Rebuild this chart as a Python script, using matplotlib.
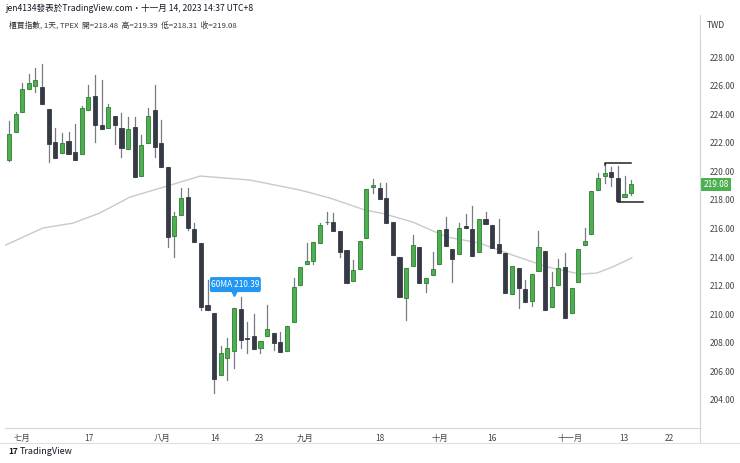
import matplotlib
matplotlib.use('Agg')
import matplotlib.pyplot as plt
from matplotlib.patches import Rectangle, FancyBboxPatch
import numpy as np

plt.rcParams['font.family'] = ['Noto Sans CJK TC', 'DejaVu Sans']

# daily OHLC (Jul 3 - Nov 14, 2023)
opens = [220.79, 222.75, 224.15, 225.76, 225.97, 225.90, 224.36, 222.05, 221.28, 222.12,
         221.35, 221.21, 224.29, 225.27, 223.24, 223.03, 223.87, 223.03, 221.56, 223.10,
         219.67, 221.98, 224.29, 221.98, 220.30, 215.47, 216.94, 218.20, 215.96, 214.98,
         210.64, 210.08, 205.74, 206.93, 207.42, 210.36, 208.33, 208.47, 207.63, 208.47,
         208.68, 208.05, 207.42, 209.45, 212.04, 213.52, 213.73, 214.98, 216.42, 216.45,
         215.82, 214.49, 212.32, 213.17, 215.33, 218.90, 218.83, 218.13, 216.45, 214.00,
         211.13, 213.38, 214.70, 212.18, 212.74, 213.52, 215.96, 214.56, 214.21, 216.17,
         215.96, 214.35, 216.66, 216.24, 214.91, 214.28, 211.41, 213.24, 211.76, 210.92,
         213.03, 214.42, 210.50, 212.04, 213.31, 210.08, 212.25, 214.84, 215.61, 218.69,
         219.67, 219.95, 219.53, 218.20, 218.48]
highs = [223.52, 224.15, 226.18, 226.81, 227.23, 227.51, 224.36, 223.03, 222.68, 222.75,
         223.31, 224.57, 226.04, 226.74, 226.39, 224.71, 223.87, 224.08, 223.80, 223.80,
         222.54, 224.43, 226.04, 223.59, 220.30, 217.15, 218.83, 218.83, 216.38, 214.98,
         212.39, 210.08, 207.77, 208.33, 210.43, 211.20, 209.45, 210.01, 208.12, 210.64,
         208.68, 208.75, 209.17, 212.53, 213.30, 214.98, 215.05, 216.38, 217.15, 217.08,
         215.82, 214.49, 213.80, 215.12, 218.76, 219.46, 219.18, 219.18, 216.45, 214.00,
         213.24, 215.54, 214.70, 212.53, 214.35, 215.89, 216.80, 214.56, 216.38, 217.01,
         217.57, 216.66, 217.15, 216.24, 216.66, 214.28, 213.38, 213.24, 212.39, 212.81,
         215.82, 214.42, 212.95, 213.87, 214.28, 211.83, 214.56, 216.03, 218.62, 219.88,
         220.58, 220.30, 220.37, 219.67, 219.39]
lows = [220.70, 222.75, 224.15, 225.76, 225.55, 224.71, 220.65, 220.93, 221.28, 221.21,
        220.79, 221.21, 224.29, 222.05, 222.96, 223.03, 221.91, 221.00, 221.56, 219.60,
        219.67, 221.98, 221.00, 220.30, 214.70, 214.00, 216.94, 215.89, 215.05, 210.30,
        210.29, 204.48, 205.74, 205.39, 206.23, 207.63, 207.28, 207.56, 207.28, 208.47,
        207.49, 207.35, 207.42, 209.45, 212.04, 213.52, 213.52, 214.98, 216.31, 215.82,
        214.00, 212.18, 212.32, 213.17, 215.33, 218.48, 218.06, 216.38, 214.14, 211.20,
        209.59, 213.38, 212.18, 211.55, 212.74, 213.52, 214.77, 212.25, 214.21, 216.03,
        214.07, 214.35, 216.31, 214.63, 214.28, 211.48, 211.41, 210.43, 210.85, 210.57,
        213.03, 210.29, 210.50, 212.04, 209.74, 210.08, 212.25, 214.84, 215.61, 218.69,
        219.18, 218.97, 217.92, 218.20, 218.31]
closes = [222.61, 224.01, 225.76, 226.18, 226.39, 224.71, 221.91, 220.93, 221.98, 221.21,
          220.79, 224.43, 225.20, 223.24, 222.96, 224.50, 223.24, 221.63, 222.96, 219.60,
          221.84, 223.87, 221.70, 220.30, 215.40, 216.87, 218.13, 216.03, 215.05, 210.50,
          210.29, 205.46, 207.28, 207.63, 210.43, 208.19, 208.30, 207.56, 208.12, 208.96,
          207.98, 207.35, 209.17, 211.90, 213.30, 213.73, 215.05, 216.24, 216.45, 215.82,
          214.35, 212.18, 213.10, 215.12, 218.76, 219.04, 218.06, 216.38, 214.14, 211.20,
          213.24, 214.84, 212.18, 212.53, 213.17, 215.89, 214.77, 213.87, 216.03, 216.03,
          214.07, 216.66, 216.31, 214.63, 214.28, 211.48, 213.38, 211.83, 210.85, 212.81,
          214.70, 210.29, 211.90, 213.24, 209.74, 211.83, 214.56, 215.12, 218.62, 219.53,
          219.88, 219.60, 217.92, 218.41, 219.08]

# 60-day moving average, sampled along the line
ma_idx = [-0.5, 5.1, 9.7, 13.7, 18.3, 23.9, 28.9, 36.4, 44.0, 48.5, 53.8, 56.5,
          61.0, 66.2, 71.1, 76.1, 81.3, 86.3, 88.8, 91.2, 94.1]
ma_val = [214.84, 216.03, 216.38, 217.08, 218.20, 218.97, 219.67, 219.39, 218.69, 218.13,
          217.29, 217.05, 216.45, 215.40, 214.98, 214.14, 213.31, 212.81, 212.88, 213.31, 213.94]

tick_pos = [2, 12.1, 23.1, 31.1, 37.9, 44.7, 56, 65.1, 73, 84.7, 92.9, 99.8]
tick_lbl = ['七月', '17', '八月', '14', '23', '九月', '18', '十月', '16', '十一月', '13', '22']
price_ticks = list(range(204, 229, 2))

GREEN = '#4caf50'
GREEN_EDGE = '#2e7d32'
DARK = '#363a45'
WICK = '#787b86'

fig = plt.figure(figsize=(7.4, 4.63), dpi=100)
ax = fig.add_axes([5/740, 1 - 428/463, 695/740, 388/463])
ax.set_xlim(-0.6, 104.4)
ax.set_ylim(202.04, 229.19)

w = 0.62
for i, (o, h, l, c) in enumerate(zip(opens, highs, lows, closes)):
    up = c >= o
    ax.plot([i, i], [l, h], color=WICK, lw=0.9, zorder=2)
    bot = min(o, c)
    hgt = max(abs(c - o), 0.06)
    ax.add_patch(Rectangle((i - w/2, bot), w, hgt,
                           facecolor=GREEN if up else DARK,
                           edgecolor=GREEN_EDGE if up else DARK,
                           lw=0.6, zorder=3))

ax.plot(ma_idx, ma_val, color='#c9c9c9', lw=1.0, zorder=1)

# high / low markers of the last bars
n = len(closes)
ax.plot([n - 5, n - 5, n - 1], [highs[n - 5] - 0.15, highs[n - 5], highs[n - 5]],
        color='#222222', lw=1.1, zorder=4)
ax.plot([n - 3, n + 0.8], [lows[n - 3] - 0.08, lows[n - 3] - 0.08], color='#222222', lw=1.1, zorder=4)

# 60MA tooltip
ax.add_patch(FancyBboxPatch((30.4, 211.6), 7.6, 0.95, boxstyle='round,pad=0.05,rounding_size=0.2',
                            facecolor='#2196f3', edgecolor='none', zorder=5))
ax.plot([34.0], [211.5], marker='v', color='#2196f3', ms=5, zorder=5)
ax.text(34.2, 212.08, '60MA 210.39', color='white', fontsize=6, ha='center', va='center', zorder=6)

for s in ['top', 'left']:
    ax.spines[s].set_visible(False)
ax.spines['right'].set_color('#d6d6d6')
ax.spines['bottom'].set_color('#d6d6d6')
ax.yaxis.tick_right()
ax.set_yticks(price_ticks)
ax.set_yticklabels([f'{p:.2f}' for p in price_ticks])
ax.set_xticks(tick_pos)
ax.set_xticklabels(tick_lbl)
ax.tick_params(axis='both', labelsize=6, colors='#444444', length=0, pad=4)
ax.tick_params(axis='y', pad=7)

# last price tag
ax.text(104.9, closes[-1], f'{closes[-1]:.2f}', color='white', fontsize=6, va='center', ha='left',
        bbox=dict(boxstyle='square,pad=0.25', facecolor='#4caf50', edgecolor='none'), clip_on=False, zorder=7)

fig.text(5/740, 1 - 8/463, 'jen4134發表於TradingView.com・十一月 14, 2023 14:37 UTC+8',
         fontsize=6.2, color='#131722', va='center')
fig.text(9/740, 1 - 25/463, '櫃買指數, 1天, TPEX  開=218.48  高=219.39  低=218.31  收=219.08',
         fontsize=5.6, color='#333333', va='center')
fig.text(716/740, 1 - 25/463, 'TWD', fontsize=6, color='#333333', va='center', ha='center')
fig.add_artist(plt.Line2D([700/740, 700/740], [1 - 443/463, 1 - 15/463], color='#d6d6d6', lw=0.8))
fig.add_artist(plt.Line2D([0, 1], [1 - 443/463, 1 - 443/463], color='#e0e0e0', lw=0.8))
fig.text(8/740, 1 - 452/463, '17', fontsize=6, fontweight='bold', color='#131722', va='center')
fig.text(20/740, 1 - 452/463, 'TradingView', fontsize=6.5, color='#131722', va='center')

fig.savefig('out.png', dpi=100, facecolor='white')
